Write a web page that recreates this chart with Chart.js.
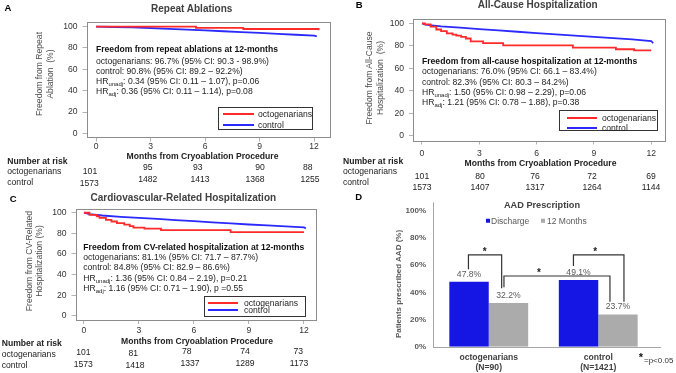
<!DOCTYPE html>
<html>
<head>
<meta charset="utf-8">
<script src="https://cdn.jsdelivr.net/npm/chart.js@4.4.1/dist/chart.umd.min.js"></script>
<style>
  html, body { margin: 0; padding: 0; background: #fff; }
  #fig { position: relative; width: 676px; height: 373px; overflow: hidden; background: #fff;
         font-family: Arial, "Liberation Sans", sans-serif; }
  #fig canvas { position: absolute; left: 0; top: 0; }
  .t { position: absolute; white-space: nowrap; line-height: 1; font-size: 8.6px; color: #222; }
  .t sub { font-size: 6px; vertical-align: -2px; line-height: 0; }
  .lg { position: absolute; border: 1px solid #333; box-sizing: border-box; background: #fff; }
  .lg i { position: absolute; height: 2px; }
  .lg span { position: absolute; font-size: 8.6px; line-height: 1; color: #222; transform: translateY(-50%); }
</style>
</head>
<body>
<div id="fig">
  <canvas id="cA" width="676" height="373"></canvas>
  <canvas id="cB" width="676" height="373"></canvas>
  <canvas id="cC" width="676" height="373"></canvas>
  <canvas id="cD" width="676" height="373"></canvas>
</div>
<script>
// ---- values ----
const monthTicks = [0, 3, 6, 9, 12];
const pctTicks = [0, 20, 40, 60, 80, 100];

// A - repeat ablations (time in months, freedom in %)
const repeatOctoT = [0, 5.5, 8.1, 12.25];
const repeatOctoS = [100, 98.9, 97.8, 96.7];
const repeatCtrlT = [0, 1, 2, 3, 4, 5, 6, 7, 8, 9, 10, 11, 12, 12.15];
const repeatCtrlS = [100, 99.7, 99.3, 98.7, 98.0, 97.3, 96.5, 95.7, 94.9, 94.1, 93.3, 92.4, 91.6, 90.8];

// B - all-cause hospitalization
const allOctoT = [0, 0.15, 0.45, 0.75, 1.0, 1.3, 1.6, 1.8, 2.05, 2.3, 2.55, 3.2, 4.25, 7.9, 10.15, 11.1, 12.0];
const allOctoS = [100, 99, 97, 94.5, 93, 91, 90, 89, 88, 86.5, 84, 82.5, 80.5, 78.5, 77, 76, 76];
const allCtrlT = [0, 0.2, 0.5, 1, 2, 3, 4, 5, 6, 7, 8, 9, 10, 11, 12, 12.1];
const allCtrlS = [100, 98.8, 98.2, 97.3, 96.1, 94.9, 93.7, 92.5, 91.3, 90.1, 89.0, 87.9, 86.8, 85.7, 84.3, 82.3];

// C - cardiovascular-related hospitalization
const cvOctoT = [0, 0.3, 0.7, 0.85, 1.2, 1.5, 1.8, 2.2, 2.5, 2.7, 3.3, 4.2, 8.0, 12.0];
const cvOctoS = [100, 98, 96.5, 95, 93, 91.5, 90, 88.5, 87, 85.5, 84.5, 83.2, 81.1, 81.1];
const cvCtrlT = [0, 0.3, 1, 2, 3, 4, 5, 6, 7, 8, 9, 10, 11, 12, 12.1];
const cvCtrlS = [100, 98.6, 97.3, 96, 95, 94, 92.8, 91.8, 90.7, 89.6, 88.6, 87.8, 86.8, 85.8, 84.8];

// number at risk
const riskRepeatOcto = [101, 95, 93, 90, 88];
const riskRepeatCtrl = [1573, 1482, 1413, 1368, 1255];
const riskAllOcto = [101, 80, 76, 72, 69];
const riskAllCtrl = [1573, 1407, 1317, 1264, 1144];
const riskCvOcto = [101, 81, 78, 74, 73];
const riskCvCtrl = [1573, 1418, 1337, 1289, 1173];

// D - AAD prescription
const aadGroups = [['octogenarians', '(N=90)'], ['control', '(N=1421)']];
const aadDischarge = [47.8, 49.1];
const aad12m = [32.2, 23.7];

// stats text
const statsA = ['Freedom from repeat ablations at 12-months',
  'octogenarians: 96.7% (95% CI: 90.3 - 98.9%)',
  'control: 90.8% (95% CI: 89.2 \u2013 92.2%)',
  'HR<sub>unadj</sub>: 0.34 (95% CI: 0.11 \u2013 1.07), p=0.06',
  'HR<sub>adj</sub>: 0.36 (95% CI: 0.11 \u2013 1.14), p=0.08'];
const statsB = ['Freedom from all-cause hospitalization at 12-months',
  'octogenarians: 76.0% (95% CI: 66.1 \u2013 83.4%)',
  'control: 82.3% (95% CI: 80.3 \u2013 84.2%)',
  'HR<sub>unadj</sub>: 1.50 (95% CI: 0.98 \u2013 2.29), p=0.06',
  'HR<sub>adj</sub>: 1.21 (95% CI: 0.78 \u2013 1.88), p=0.38'];
const statsC = ['Freedom from CV-related hospitalization at 12-months',
  'octogenarians: 81.1% (95% CI: 71.7 \u2013 87.7%)',
  'control: 84.8% (95% CI: 82.9 \u2013 86.6%)',
  'HR<sub>unadj</sub>: 1.36 (95% CI: 0.84 \u2013 2.19), p=0.21',
  'HR<sub>adj</sub>: 1.16 (95% CI: 0.71 \u2013 1.90), p =0.55'];

// ---- drawing ----
const W = 676, H = 373;
const FONT = 'Arial, "Liberation Sans", sans-serif';
const RED = '#ff2a2a', BLUE = '#2a2aff';
const fig = document.getElementById('fig');

function put(x, y, html, css, center) {
  const el = document.createElement('div');
  el.className = 't';
  el.innerHTML = html;
  el.style.left = x + 'px';
  el.style.top = y + 'px';
  el.style.transform = center ? 'translate(-50%,-50%)' : 'translateY(-50%)';
  Object.assign(el.style, css || {});
  fig.appendChild(el);
  return el;
}

function vtitle(x, y, html, css) {
  const el = put(x, y, html, Object.assign({textAlign: 'center', lineHeight: '10.6px', color: '#4d4d4d'}, css), true);
  el.style.transform = 'translate(-50%,-50%) rotate(-90deg)';
}

function legendBox(l, t, w, h, lineL, lineW, y1, y2, textL) {
  const el = document.createElement('div');
  el.className = 'lg';
  Object.assign(el.style, {left: l + 'px', top: t + 'px', width: w + 'px', height: h + 'px'});
  el.innerHTML =
    `<i style="left:${lineL}px;top:${y1 - 1}px;width:${lineW}px;background:${RED}"></i>` +
    `<i style="left:${lineL}px;top:${y2 - 1}px;width:${lineW}px;background:${BLUE}"></i>` +
    `<span style="left:${textL}px;top:${y1}px">octogenarians</span>` +
    `<span style="left:${textL}px;top:${y2}px">control</span>`;
  fig.appendChild(el);
}

function pts(t, s) { return t.map((v, i) => ({x: v, y: s[i]})); }

const kmBox = {
  id: 'kmBox',
  afterDatasetsDraw(chart) {
    const a = chart.chartArea, ctx = chart.ctx;
    ctx.save();
    ctx.strokeStyle = '#8c8c8c';
    ctx.lineWidth = 1;
    ctx.strokeRect(Math.round(a.left) + 0.5, Math.round(a.top) + 0.5,
      Math.round(a.right - a.left), Math.round(a.bottom - a.top));
    ctx.restore();
  }
};

function kmChart(id, box, xRange, xPad, octo, ctrl) {
  const yW = 30, xH = 24;
  const tickFont = {family: FONT, size: 8.6};
  const grid = {drawOnChartArea: false, tickLength: 4, color: '#b3b3b3'};
  return new Chart(document.getElementById(id), {
    type: 'line',
    data: {
      datasets: [
        {label: 'octogenarians', data: octo, borderColor: RED, borderWidth: 1.8,
         stepped: true, pointRadius: 0, fill: false},
        {label: 'control', data: ctrl, borderColor: BLUE, borderWidth: 1.8,
         tension: 0, pointRadius: 0, fill: false}
      ]
    },
    options: {
      responsive: false,
      animation: false,
      events: [],
      layout: {padding: {left: box.l - yW, top: box.t, right: W - box.r, bottom: H - box.b - xH}},
      plugins: {legend: {display: false}, tooltip: {enabled: false}},
      scales: {
        x: {
          type: 'linear', min: xRange[0], max: xRange[1], bounds: 'data',
          afterBuildTicks: s => { s.ticks = monthTicks.map(v => ({value: v})); },
          afterFit: s => { s.height = xH; },
          grid: grid,
          border: {display: false},
          ticks: {padding: xPad, font: tickFont, color: '#333', autoSkip: false, maxRotation: 0,
                  callback: v => v}
        },
        y: {
          min: -4, max: 104, bounds: 'data',
          afterBuildTicks: s => { s.ticks = pctTicks.map(v => ({value: v})); },
          afterFit: s => { s.width = yW; },
          grid: grid,
          border: {display: false},
          ticks: {padding: 5, font: tickFont, color: '#333', autoSkip: false, callback: v => v}
        }
      }
    },
    plugins: [kmBox]
  });
}

kmChart('cA', {l: 86.5, t: 22.4, r: 329, b: 137.6}, [-0.53, 12.82], 0,
  pts(repeatOctoT, repeatOctoS), pts(repeatCtrlT, repeatCtrlS));
kmChart('cB', {l: 413, t: 18.8, r: 665, b: 140.5}, [-0.47, 12.72], 3.8,
  pts(allOctoT, allOctoS), pts(allCtrlT, allCtrlS));
kmChart('cC', {l: 75.5, t: 208.6, r: 315, b: 320}, [-0.46, 12.6], 1.5,
  pts(cvOctoT, cvOctoS), pts(cvCtrlT, cvCtrlS));

// significance brackets for panel D: bar = [dataset, group], ends/top in %
const aadBrackets = [
  {from: [0, 0], to: [1, 0], dx: [-0.6, -6.8], ends: [57.0, 43.0], top: 67.6, star: 0.49},
  {from: [1, 0], to: [1, 1], dx: [-4.5, -8], ends: [43.8, 33.2], top: 52.1, star: 0.33},
  {from: [0, 1], to: [1, 1], dx: [-5.1, 6], ends: [59.5, 33.2], top: 67.6, star: 0.43}
];

const aadMarks = {
  id: 'aadMarks',
  afterDatasetsDraw(chart) {
    const ctx = chart.ctx, a = chart.chartArea, y = chart.scales.y;
    ctx.save();
    ctx.strokeStyle = '#a6a6a6';
    ctx.lineWidth = 1;
    ctx.beginPath();
    ctx.moveTo(Math.round(a.left) - 0.5, a.top);
    ctx.lineTo(Math.round(a.left) - 0.5, a.bottom + 1);
    ctx.moveTo(a.left - 1, Math.round(a.bottom) + 0.5);
    ctx.lineTo(a.right + 8, Math.round(a.bottom) + 0.5);
    ctx.stroke();

    ctx.font = '8.6px ' + FONT;
    ctx.fillStyle = '#595959';
    ctx.textAlign = 'center';
    ctx.textBaseline = 'middle';
    chart.data.datasets.forEach((ds, di) => {
      chart.getDatasetMeta(di).data.forEach((bar, i) => {
        ctx.fillText(ds.data[i].toFixed(1) + '%', bar.x, bar.y - 7.5);
      });
    });

    ctx.strokeStyle = '#333';
    ctx.lineWidth = 1.2;
    ctx.fillStyle = '#222';
    ctx.font = 'bold 10px ' + FONT;
    aadBrackets.forEach(b => {
      const ba = chart.getDatasetMeta(b.from[0]).data[b.from[1]];
      const bb = chart.getDatasetMeta(b.to[0]).data[b.to[1]];
      const xa = ba.x + b.dx[0], xb = bb.x + b.dx[1];
      const yt = y.getPixelForValue(b.top);
      ctx.beginPath();
      ctx.moveTo(xa, y.getPixelForValue(b.ends[0]));
      ctx.lineTo(xa, yt);
      ctx.lineTo(xb, yt);
      ctx.lineTo(xb, y.getPixelForValue(b.ends[1]));
      ctx.stroke();
      ctx.fillText('*', xa + (xb - xa) * b.star, yt - 2.5);
    });
    ctx.restore();
  }
};

new Chart(document.getElementById('cD'), {
  type: 'bar',
  data: {
    labels: aadGroups,
    datasets: [
      {label: 'Discharge', data: aadDischarge, backgroundColor: '#1616e4',
       barPercentage: 1, categoryPercentage: 0.72},
      {label: '12 Months', data: aad12m, backgroundColor: '#ababab',
       barPercentage: 1, categoryPercentage: 0.72}
    ]
  },
  options: {
    responsive: false,
    animation: false,
    events: [],
    layout: {padding: {left: 434 - 40, top: 202.3, right: W - 653, bottom: H - 346.7 - 26}},
    plugins: {legend: {display: false}, tooltip: {enabled: false}},
    scales: {
      x: {
        afterFit: s => { s.height = 26; },
        grid: {display: false, drawTicks: false},
        border: {display: false},
        ticks: {padding: 6, color: '#404040', font: {family: FONT, size: 8.6, weight: 'bold', lineHeight: 1.16}}
      },
      y: {
        min: 0, max: 106.4, bounds: 'data',
        afterBuildTicks: s => { s.ticks = pctTicks.map(v => ({value: v})); },
        afterFit: s => { s.width = 40; },
        grid: {display: false, drawTicks: false},
        border: {display: false},
        ticks: {padding: 8, color: '#595959', font: {family: FONT, size: 8, weight: 'bold'},
                callback: v => v + '%'}
      }
    }
  },
  plugins: [aadMarks]
});

// ---- text: panel letters, titles, axis titles ----
const bold = {fontWeight: 'bold'};
const titleCss = {fontWeight: 'bold', fontSize: '10px', color: '#404040'};
put(8, 7.7, 'A', {fontWeight: 'bold', fontSize: '9.5px', color: '#000'}, true);
put(359.3, 5, 'B', {fontWeight: 'bold', fontSize: '9.5px', color: '#000'}, true);
put(13.3, 199, 'C', {fontWeight: 'bold', fontSize: '9.5px', color: '#000'}, true);
put(358.7, 196.7, 'D', {fontWeight: 'bold', fontSize: '9.5px', color: '#000'}, true);

put(191.7, 9.3, 'Repeat Ablations', titleCss, true);
put(537.7, 5.2, 'All-Cause Hospitalization', titleCss, true);
put(183.3, 198.3, 'Cardiovascular-Related Hospitalization', titleCss, true);
put(542, 206, 'AAD Prescription', Object.assign({}, titleCss, {fontSize: '9.2px'}), true);

put(202.5, 155.7, 'Months from Cryoablation Procedure', bold, true);
put(540.5, 163.3, 'Months from Cryoablation Procedure', bold, true);
put(197, 340.7, 'Months from Cryoablation Procedure', bold, true);

vtitle(44.5, 74, 'Freedom from Repeat<br>Ablation&nbsp; (%)', {lineHeight: '11px'});
vtitle(374.7, 78, 'Freedom from All-Cause<br>Hospitalization&nbsp; (%)');
vtitle(34.3, 260.5, 'Freedom from CV-Related<br>Hospitalization (%)', {lineHeight: '10px'});
vtitle(398.7, 284, 'Patients prescribed AAD (%)', {fontWeight: 'bold', fontSize: '8px', color: '#595959'});

// ---- stats boxes ----
function stats(x, ys, lines) {
  lines.forEach((s, i) => put(x, ys[i], s, i === 0 ? {fontWeight: 'bold', color: '#111'} : {}));
}
stats(96, [49.3, 61, 71, 81, 91], statsA);
stats(422, [61, 71.3, 81.6, 91.9, 102.2], statsB);
stats(83.3, [246.7, 257.3, 267, 277.7, 288.3], statsC);

legendBox(218, 107, 95, 23, 4, 31, 6, 17, 39);
legendBox(559, 110, 99, 21, 7, 30, 7, 17, 42);
legendBox(204, 296, 102, 21, 3, 30, 5.7, 13.3, 39);

// ---- number at risk tables ----
function riskTable(lx, ly, row1, row2, xs1, ys1, xs2, ys2) {
  put(lx, ly[0], 'Number at risk', bold);
  put(lx, ly[1], 'octogenarians');
  put(lx, ly[2], 'control');
  row1.forEach((v, i) => put(xs1[i], ys1[i], String(v), null, true));
  row2.forEach((v, i) => put(xs2[i], ys2[i], String(v), null, true));
}
riskTable(7.3, [161, 171, 182], riskRepeatOcto, riskRepeatCtrl,
  [90, 147.7, 197.7, 260, 307.7], [171, 167, 167, 167, 167],
  [89.3, 147.7, 200, 255, 310], [182.5, 179, 179, 179, 179]);
riskTable(343, [161, 171, 182], riskAllOcto, riskAllCtrl,
  [422, 480, 535, 592, 651], [175.7, 175.7, 175.7, 175.7, 175.7],
  [422, 480, 535, 592, 651], [186.7, 186.7, 186.7, 186.7, 186.7]);
riskTable(1.7, [343.3, 354.3, 365], riskCvOcto, riskCvCtrl,
  [83.3, 133.3, 186.7, 245, 298.3], [351.7, 353.3, 350.7, 350.7, 350.7],
  [83.3, 135, 190, 245, 299], [364.3, 365, 362.7, 362.7, 362.7]);

// ---- panel D legend and footnote ----
const lgCss = {fontSize: '8.5px', color: '#595959'};
put(486, 221, '<span style="display:inline-block;width:4px;height:4px;background:#1616e4;margin-right:1px;vertical-align:1px"></span>Discharge', lgCss);
put(541, 221, '<span style="display:inline-block;width:4px;height:4px;background:#ababab;margin-right:2px;vertical-align:1px"></span>12 Months', lgCss);
put(641, 357, '*', {fontWeight: 'bold', fontSize: '11px', color: '#111'}, true);
put(644, 360.5, '=p&lt;0.05', {fontSize: '8px', color: '#333'});
</script>
</body>
</html>
